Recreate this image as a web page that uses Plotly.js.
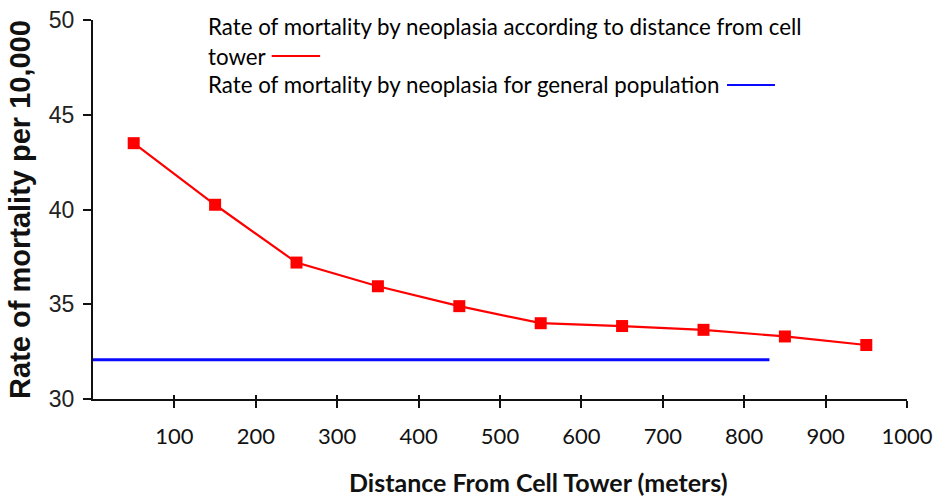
<!DOCTYPE html>
<html>
<head>
<meta charset="utf-8">
<script src="https://cdn.plot.ly/plotly-3.0.1.min.js"></script>
<style>
  html, body { margin: 0; padding: 0; background: #fff; }
  #chart { width: 937px; height: 496px; }
</style>
</head>
<body>
<div id="chart"></div>
<script>
// Data
const distances = [50, 150, 250, 350, 450, 550, 650, 750, 850, 950];
const towerRates = [43.5, 40.25, 37.2, 35.95, 34.9, 34.0, 33.85, 33.65, 33.3, 32.85];
const generalX = [0, 831];
const generalRate = [32.07, 32.07];
const xTicks = [100, 200, 300, 400, 500, 600, 700, 800, 900, 1000];
const yTicks = [30, 35, 40, 45, 50];

const legendLine1 = "Rate of mortality by neoplasia according to distance from cell";
const legendLine2 = "tower";
const legendLine3 = "Rate of mortality by neoplasia for general population";
const xTitle = "Distance From Cell Tower (meters)";
const yTitle = "Rate of mortality per 10,000";

const calibriLike = "Lato, 'Open Sans', sans-serif";
const arialLike = "'Liberation Sans', Arial, sans-serif";
const redColor = '#ff0000';
const blueColor = '#0a0aff';

const traces = [
  {
    x: generalX, y: generalRate, type: 'scatter', mode: 'lines',
    line: { color: blueColor, width: 3 }, hoverinfo: 'skip', showlegend: false
  },
  {
    x: distances, y: towerRates, type: 'scatter', mode: 'lines+markers',
    line: { color: redColor, width: 2.2 },
    marker: { symbol: 'square', size: 12, color: redColor },
    showlegend: false
  },
  {
    // invisible trace carrying the upper half of the crossing x ticks
    x: [0, 1000], y: [30, 30], xaxis: 'x2', type: 'scatter', mode: 'lines',
    line: { width: 0 }, hoverinfo: 'skip', showlegend: false
  }
];

const layout = {
  width: 937, height: 496,
  margin: { l: 93, r: 30, t: 20, b: 97 },
  paper_bgcolor: '#fff', plot_bgcolor: '#fff',
  showlegend: false,
  xaxis: {
    range: [0, 1000], tickvals: xTicks, ticktext: xTicks.map(String),
    showgrid: false, zeroline: false,
    showline: true, linecolor: '#111', linewidth: 2,
    ticks: 'outside', ticklen: 7, tickwidth: 2, tickcolor: '#111',
    ticklabelstandoff: 10,
    tickfont: { family: calibriLike, size: 22, color: '#111' }
  },
  xaxis2: {
    range: [0, 1000], overlaying: 'x', anchor: 'y', side: 'bottom',
    tickvals: xTicks, showticklabels: false, showgrid: false, zeroline: false,
    showline: false, ticks: 'inside', ticklen: 4, tickwidth: 2, tickcolor: '#111'
  },
  yaxis: {
    range: [30, 50], tickvals: yTicks, ticktext: yTicks.map(String),
    showgrid: false, zeroline: false,
    showline: true, linecolor: '#111', linewidth: 2,
    ticks: 'outside', ticklen: 8, tickwidth: 2, tickcolor: '#111',
    ticklabelstandoff: 4,
    tickfont: { family: arialLike, size: 23, color: '#222' },
    title: { text: yTitle, font: { family: arialLike, size: 29, color: '#111', weight: 'bold' }, standoff: 10 }
  },
  shapes: [
    { type: 'line', xref: 'paper', yref: 'paper', x0: 0.2195, x1: 0.279, y0: 0.905, y1: 0.905,
      line: { color: redColor, width: 2 } },
    { type: 'line', xref: 'paper', yref: 'paper', x0: 0.7789, x1: 0.8378, y0: 0.8285, y1: 0.8285,
      line: { color: blueColor, width: 2 } }
  ],
  annotations: [
    {
      xref: 'paper', yref: 'paper', x: 0.547, y: -0.22, xanchor: 'center', yanchor: 'middle',
      text: '<b>' + xTitle + '</b>', showarrow: false,
      font: { family: calibriLike, size: 25, color: '#111' }
    },
    {
      xref: 'paper', yref: 'paper', x: 0.139, y: 0.982, xanchor: 'left', yanchor: 'middle',
      text: legendLine1, showarrow: false,
      font: { family: calibriLike, size: 22.3, color: '#000' }
    },
    {
      xref: 'paper', yref: 'paper', x: 0.139, y: 0.905, xanchor: 'left', yanchor: 'middle',
      text: legendLine2, showarrow: false,
      font: { family: calibriLike, size: 22.3, color: '#000' }
    },
    {
      xref: 'paper', yref: 'paper', x: 0.139, y: 0.83, xanchor: 'left', yanchor: 'middle',
      text: legendLine3, showarrow: false,
      font: { family: calibriLike, size: 22.3, color: '#000' }
    }
  ]
};

Plotly.newPlot('chart', traces, layout, { staticPlot: true, displayModeBar: false });
</script>
</body>
</html>
